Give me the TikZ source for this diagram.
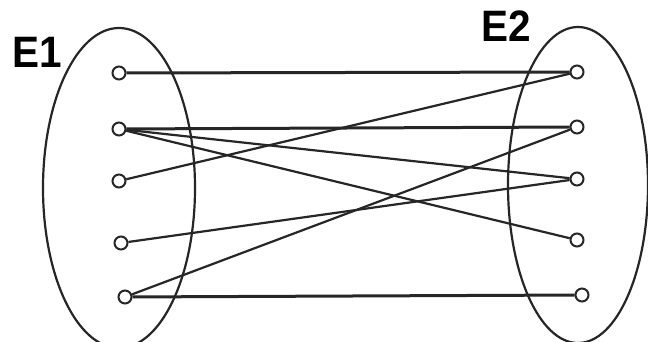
\documentclass[tikz,border=0pt]{standalone}
\usepackage{fontspec}
\setmainfont{Liberation Sans}
\begin{document}
\begin{tikzpicture}[x=1pt,y=1pt,
  setring/.style={draw=black!85,line width=2.2pt},
  pt/.style={circle,draw=black!85,line width=2pt,fill=white,inner sep=0pt,minimum size=13pt},
  link/.style={draw=black!85,line width=3pt},
  slant/.style={draw=black!85,line width=2.2pt},
  lab/.style={font=\fontsize{44}{44}\selectfont\bfseries,inner sep=0pt,xscale=0.92}]
\useasboundingbox (0,0) rectangle (648,342);
\clip (0,0) rectangle (648,342);
\fill[white] (0,0) rectangle (648,342);
\draw[setring] (119,154) ellipse [x radius=76, y radius=160];
\draw[setring] (578,157) ellipse [x radius=70, y radius=158];
\node[lab] (e1) at (37,290) {E1};
\node[lab] (e2) at (506,316) {E2};
\node[pt] (l1) at (119,269) {};
\node[pt] (l2) at (119,213) {};
\node[pt] (l3) at (119,161) {};
\node[pt] (l4) at (121,99) {};
\node[pt] (l5) at (125,45) {};
\node[pt] (r1) at (577,270) {};
\node[pt] (r2) at (577,215) {};
\node[pt] (r3) at (577,163) {};
\node[pt] (r4) at (577,102) {};
\node[pt] (r5) at (582,47) {};
\draw[link] (l1) -- (r1);
\draw[link] (l2) -- (r2);
\draw[slant] (l2) -- (r3);
\draw[slant] (l2) -- (r4);
\draw[slant] (l3) -- (r1);
\draw[slant] (l4) -- (r3);
\draw[slant] (l5) -- (r2);
\draw[link] (l5) -- (r5);
\end{tikzpicture}
\end{document}
